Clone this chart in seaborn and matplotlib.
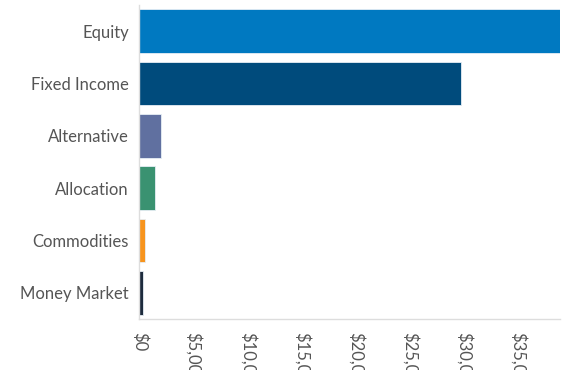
import matplotlib
matplotlib.use("Agg")
import matplotlib.pyplot as plt
import seaborn as sns
import pandas as pd
from matplotlib.ticker import FixedLocator, FuncFormatter

categories = ["Equity", "Fixed Income", "Alternative", "Allocation", "Commodities", "Money Market"]
values = [41000, 29730, 2000, 1480, 500, 340]
colors = ["#0079C1", "#004B7C", "#6070A0", "#3A9271", "#F7941D", "#1E2B3D"]
x_ticks = [0, 5000, 10000, 15000, 20000, 25000, 30000, 35000]

sns.set_theme(style="white")
plt.rcParams["font.family"] = ["Lato", "DejaVu Sans"]

df = pd.DataFrame({"category": categories, "value": values})

fig = plt.figure(figsize=(5.68, 3.70), dpi=100)
ax = fig.add_axes([139.3 / 568, (370 - 319) / 370, (560 - 139.3) / 568, (319 - 5) / 370])

sns.barplot(data=df, x="value", y="category", hue="category", palette=colors,
            legend=False, orient="h", width=0.84, ax=ax,
            edgecolor="#e6eef5", linewidth=0.6, saturation=1)

ax.set_xlim(0, 38850)
ax.set_ylim(5.5, -0.5)
ax.set_xlabel("")
ax.set_ylabel("")

ax.xaxis.set_major_locator(FixedLocator(x_ticks))
ax.xaxis.set_major_formatter(FuncFormatter(lambda v, p: "${:,.0f}".format(v)))
for lab in ax.get_xticklabels():
    lab.set_rotation(-90)
    lab.set_va("top")
    lab.set_ha("center")

ax.set_yticks(range(len(categories)))
ax.set_yticklabels(categories)
ax.yaxis.set_minor_locator(FixedLocator([0.5, 1.5, 2.5, 3.5, 4.5, 5.5]))

grey = "#dddddd"
ax.tick_params(axis="y", which="major", length=0, pad=7.5, labelsize=12, labelcolor="#555555")
ax.tick_params(axis="y", which="minor", length=18, width=1, color=grey, direction="inout")
ax.tick_params(axis="x", which="major", length=13, width=1, color=grey, direction="inout",
               pad=3, labelsize=12, labelcolor="#555555")
ax.tick_params(axis="x", which="minor", length=0)

for s in ["top", "right"]:
    ax.spines[s].set_visible(False)
for s in ["left", "bottom"]:
    ax.spines[s].set_color(grey)
    ax.spines[s].set_linewidth(1)

fig.savefig("out.png", dpi=100)
